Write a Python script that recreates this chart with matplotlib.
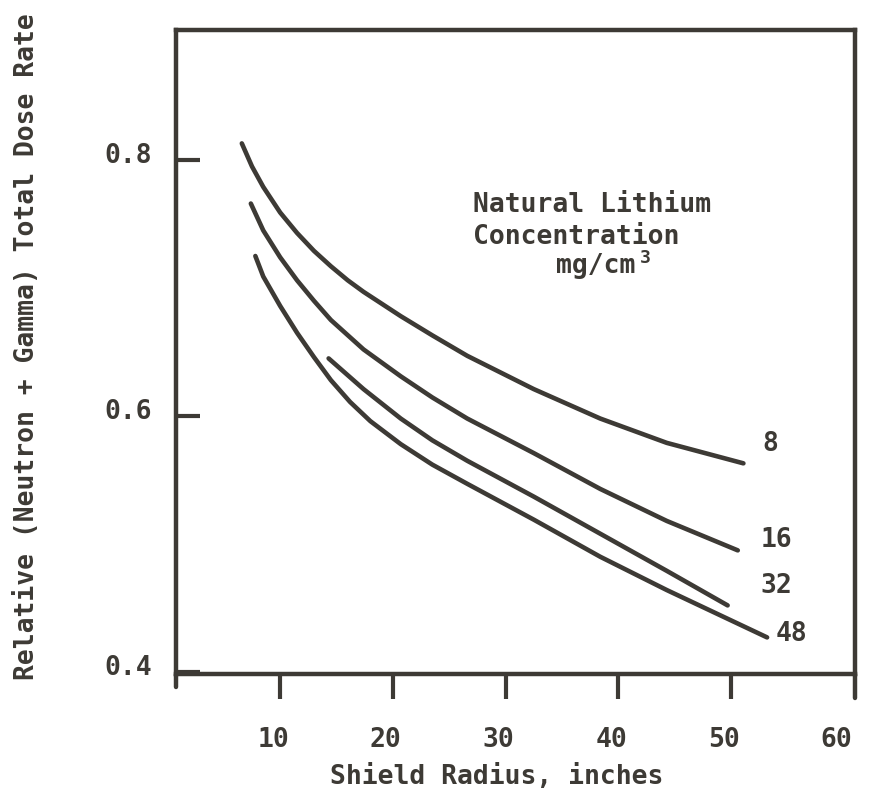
import matplotlib
matplotlib.use("Agg")
import matplotlib.pyplot as plt
from matplotlib.transforms import ScaledTranslation

# Relative total dose rate vs shield radius, one curve per Li concentration
r_8 = [6.6, 7.5, 8.5, 10.0, 11.5, 13.0, 14.5, 16.0, 17.4, 20.7, 23.5, 26.6,
       32.5, 38.4, 44.3, 51.1]
d_8 = [0.813, 0.795, 0.779, 0.759, 0.743, 0.729, 0.717, 0.706, 0.697, 0.678,
       0.663, 0.647, 0.621, 0.598, 0.579, 0.563]

r_16 = [7.4, 8.5, 10.0, 11.5, 13.0, 14.5, 17.4, 20.7, 23.5, 26.6, 32.5,
        38.4, 44.3, 50.6]
d_16 = [0.766, 0.745, 0.724, 0.706, 0.690, 0.675, 0.652, 0.631, 0.6145,
        0.598, 0.571, 0.543, 0.518, 0.495]

r_32 = [14.3, 17.4, 20.7, 23.5, 26.6, 32.5, 38.4, 44.3, 49.7]
d_32 = [0.645, 0.621, 0.598, 0.581, 0.565, 0.537, 0.508, 0.479, 0.452]

r_48 = [7.8, 8.5, 10.0, 11.5, 13.0, 14.5, 16.2, 18.0, 20.7, 23.5, 26.6,
        32.5, 38.4, 44.3, 53.2]
d_48 = [0.725, 0.709, 0.686, 0.665, 0.646, 0.628, 0.611, 0.596, 0.578,
        0.562, 0.547, 0.519, 0.490, 0.464, 0.427]

curve_labels = ["8", "16", "32", "48"]
label_x = [53.5, 54.0, 54.0, 55.4]
label_y = [0.578, 0.503, 0.467, 0.430]

x_ticks = [10, 20, 30, 40, 50, 60]
y_ticks = [0.4, 0.6, 0.8]

INK = "#3d3a35"
FONT = "DejaVu Sans Mono"
FS = 19

plt.rcParams["font.family"] = FONT
plt.rcParams["font.weight"] = "bold"

fig = plt.figure(figsize=(8.78, 7.94), dpi=100)
W, H = 878, 794
ax = fig.add_axes([176 / W, 1 - 674 / H, (855 - 176) / W, (674 - 30) / H])

for r, d in [(r_8, d_8), (r_16, d_16), (r_32, d_32), (r_48, d_48)]:
    ax.plot(r, d, color=INK, lw=3.3, solid_capstyle="round",
            solid_joinstyle="round")

for txt, x, y in zip(curve_labels, label_x, label_y):
    ax.text(x, y, txt, color=INK, fontsize=FS, ha="center", va="center")

ax.text(27.1, 0.7594, "Natural Lithium", color=INK, fontsize=FS, va="baseline")
ax.text(27.1, 0.7344, "Concentration", color=INK, fontsize=FS, va="baseline")
ax.text(34.5, 0.7117, "mg/cm", color=INK, fontsize=FS, va="baseline")
ax.text(41.9, 0.7195, "3", color=INK, fontsize=13, va="baseline")

ax.set_xlim(0.76, 61.0)
ax.set_ylim(0.3984, 0.9016)

for s in ax.spines.values():
    s.set_color(INK)
    s.set_linewidth(3.2)

ax.set_xticks(x_ticks)
ax.set_yticks(y_ticks)
ax.set_yticklabels([f"{v:.1f}" for v in y_ticks])
ax.tick_params(axis="x", direction="out", length=18, width=3, color=INK,
               labelcolor=INK, labelsize=FS, pad=20)
ax.tick_params(axis="y", direction="in", length=17, width=3, color=INK,
               labelcolor=INK, labelsize=FS, pad=17)
# the 60 mark is drawn by the extended right frame line
ax.xaxis.get_major_ticks()[-1].tick1line.set_visible(False)

shift_x = ScaledTranslation(-7 / 100, 0, fig.dpi_scale_trans)
for lab in ax.get_xticklabels():
    lab.set_transform(lab.get_transform() + shift_x)
shift_y = ScaledTranslation(0, 7 / 100, fig.dpi_scale_trans)
for lab in ax.get_yticklabels():
    lab.set_transform(lab.get_transform() + shift_y)

# frame lines run a little past the bottom corner
ax.plot([0, 0], [0, -0.02], transform=ax.transAxes, color=INK, lw=3.2,
        clip_on=False, solid_capstyle="round")
ax.plot([1, 1], [0, -0.038], transform=ax.transAxes, color=INK, lw=3.2,
        clip_on=False, solid_capstyle="round")

fig.text(497 / W, 1 - 777 / H, "Shield Radius, inches", color=INK,
         fontsize=FS, ha="center", va="center")
fig.text(27 / W, 1 - 347 / H, "Relative (Neutron + Gamma) Total Dose Rate",
         color=INK, fontsize=FS, rotation=90, ha="center", va="center")

fig.savefig("out.png", dpi=100, facecolor="white")
